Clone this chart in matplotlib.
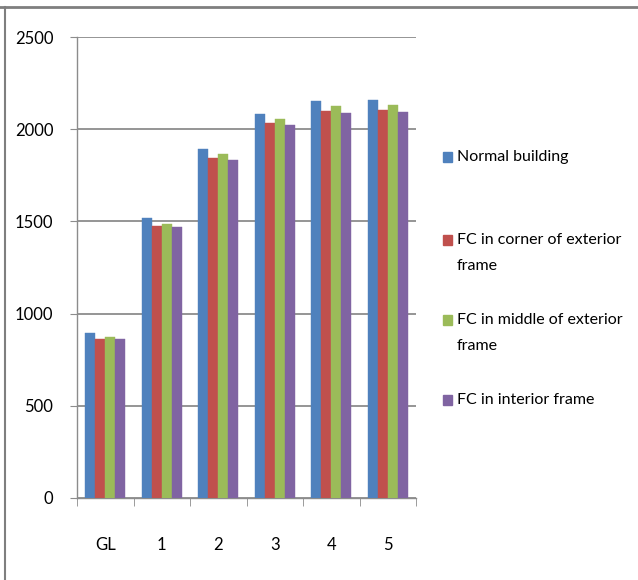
import numpy as np
import matplotlib
matplotlib.use("Agg")
from matplotlib import pyplot as plt
from matplotlib.patches import Rectangle
from matplotlib.lines import Line2D

# storeys on the x axis
floors = ["GL", "1", "2", "3", "4", "5"]

# values
normal = [895, 1517, 1893, 2081, 2151, 2157]
fc_corner = [860, 1475, 1844, 2034, 2097, 2102]
fc_middle = [875, 1486, 1866, 2054, 2124, 2129]
fc_interior = [860, 1468, 1831, 2021, 2088, 2095]

labels = ["Normal building", "FC in corner of exterior\nframe",
          "FC in middle of exterior\nframe", "FC in interior frame"]
colors = ["#4F81BD", "#C0504D", "#9BBB59", "#8064A2"]
series = [normal, fc_corner, fc_middle, fc_interior]

plt.rcParams['font.family'] = ['Lato', 'DejaVu Sans']

fig = plt.figure(figsize=(6.38, 5.80), dpi=100)
ax = fig.add_axes([77/638, 82/580, (416-77)/638, (498-37)/580])

x = np.arange(len(floors))
w = 0.178
for i, (vals, c) in enumerate(zip(series, colors)):
    ax.bar(x + (i - 1.5) * w, vals, width=w, color=c, edgecolor=c, linewidth=0.3, zorder=3)

ax.set_xlim(-0.5, len(floors) - 0.5)
ax.set_ylim(0, 2500)
ax.set_yticks(np.arange(0, 2501, 500))
ax.yaxis.grid(True, color="#8c8c8c", linewidth=1.3, zorder=0)
ax.set_axisbelow(True)

ax.set_xticks(x)
ax.set_xticklabels(floors)
ax.set_xticks(np.arange(-0.5, len(floors)), minor=True)
ax.tick_params(axis='x', which='major', length=0, pad=28, labelsize=12)
ax.tick_params(axis='x', which='minor', length=6, color="#8c8c8c", direction='out')
ax.tick_params(axis='y', length=5, color="#8c8c8c", pad=12, labelsize=12)

for s in ["top", "right"]:
    ax.spines[s].set_visible(False)
for s in ["left", "bottom"]:
    ax.spines[s].set_color("#8c8c8c")
    ax.spines[s].set_linewidth(1.0)

# legend drawn by hand so the marker sits on the first text line
leg_y = [157, 240, 320, 400]
for lab, c, yy in zip(labels, colors, leg_y):
    fig.patches.append(Rectangle((443/638, 1 - (yy + 5)/580), 9/638, 10/580,
                                 transform=fig.transFigure, color=c))
    fig.text(457/638, 1 - (yy - 7)/580, lab, fontsize=11.5, va='top', ha='left',
             linespacing=2.05)

# outer frame
fig.lines.append(Line2D([0, 1], [1 - 7/580, 1 - 7/580], transform=fig.transFigure,
                        color="#7f7f7f", linewidth=2))
fig.lines.append(Line2D([5/638, 5/638], [0, 1 - 7/580], transform=fig.transFigure,
                        color="#7f7f7f", linewidth=1.5))

fig.savefig("out.png", dpi=100)
